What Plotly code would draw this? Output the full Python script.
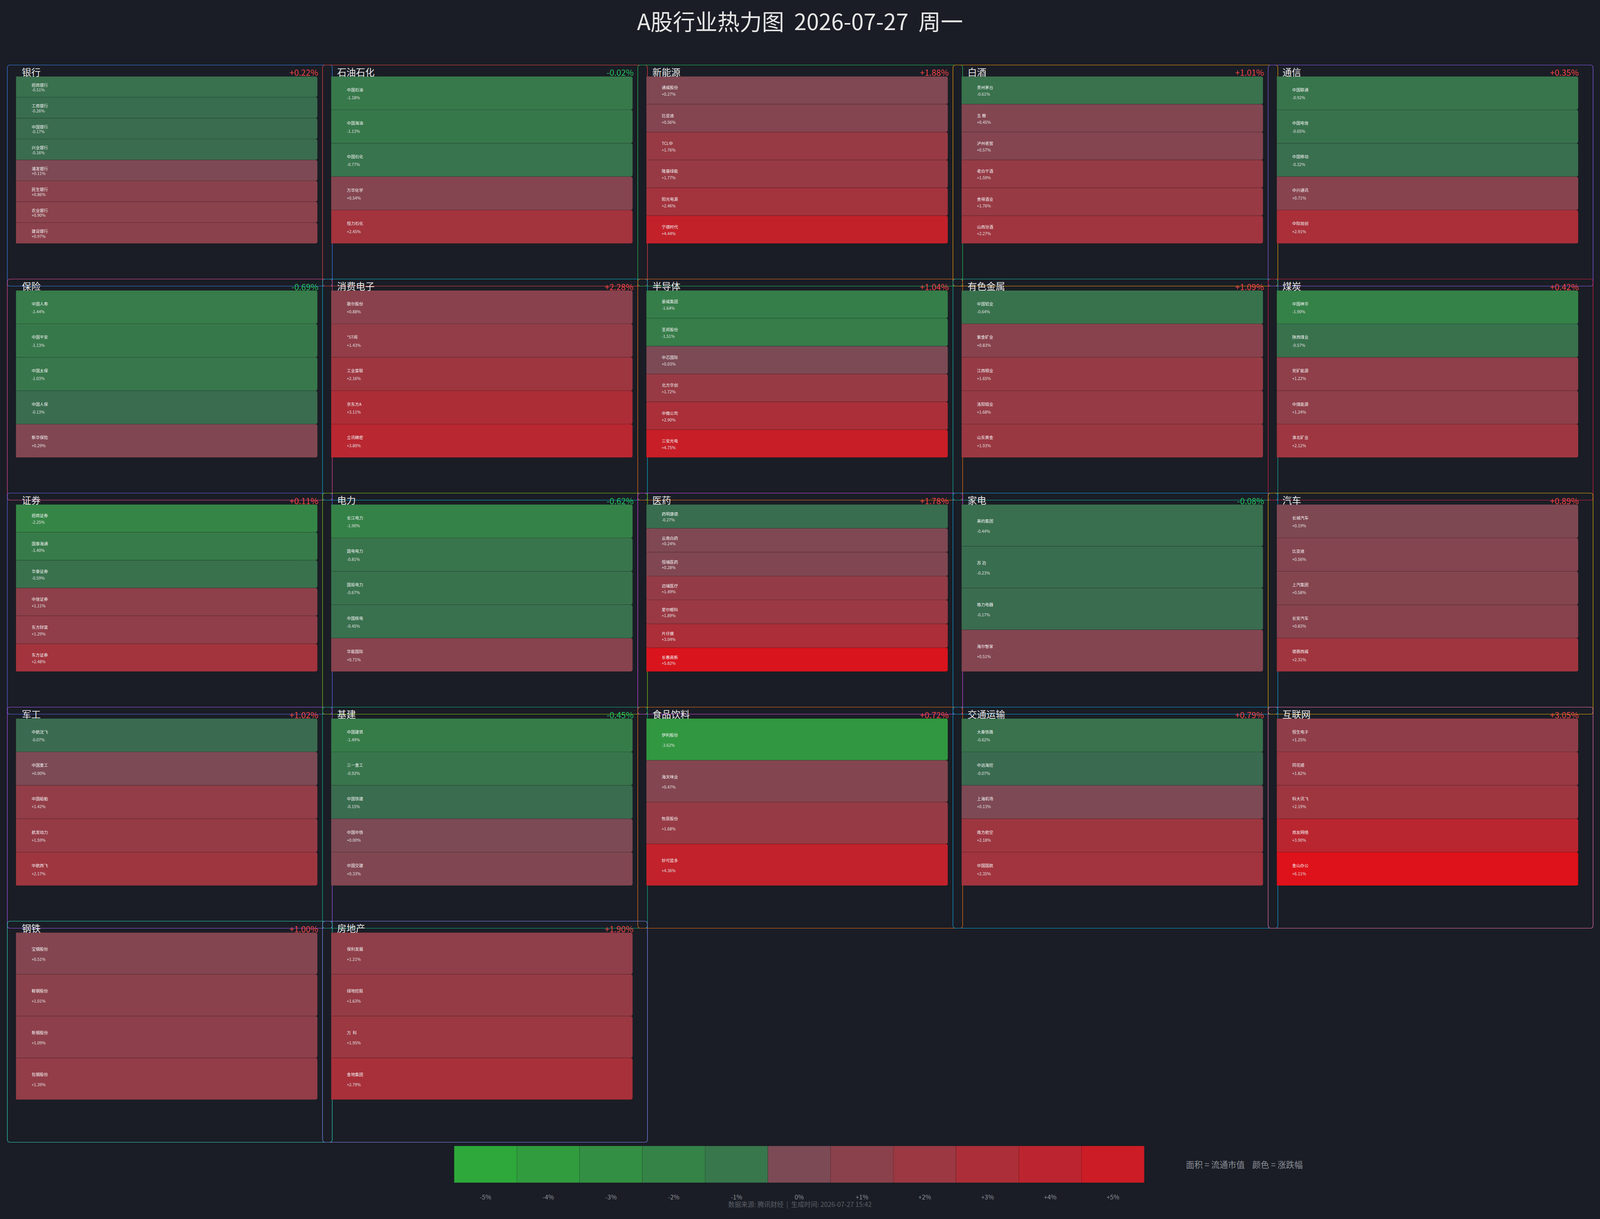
import plotly.graph_objects as go

BG = "#1a1d25"
FONT = "Noto Sans CJK SC"

# ---- data -------------------------------------------------------------
SECTORS = ["银行", "石油石化", "新能源", "白酒", "通信",
           "保险", "消费电子", "半导体", "有色金属", "煤炭",
           "证券", "电力", "医药", "家电", "汽车",
           "军工", "基建", "食品饮料", "交通运输", "互联网",
           "钢铁", "房地产"]

SECTOR_PCT = [0.22, -0.02, 1.88, 1.01, 0.35,
              -0.69, 2.28, 1.04, 1.09, 0.42,
              0.11, -0.62, 1.78, -0.08, 0.89,
              1.02, -0.45, 0.72, 0.79, 3.05,
              1.00, 1.90]

STOCK_NAMES = [
    ["招商银行", "工商银行", "中国银行", "兴业银行", "浦发银行", "民生银行", "农业银行", "建设银行"],
    ["中国石油", "中国海油", "中国石化", "万华化学", "恒力石化"],
    ["通威股份", "比亚迪", "TCL中环", "隆基绿能", "阳光电源", "宁德时代"],
    ["贵州茅台", "五 粮 液", "泸州老窖", "老白干酒", "舍得酒业", "山西汾酒"],
    ["中国联通", "中国电信", "中国移动", "中兴通讯", "中际旭创"],
    ["中国人寿", "中国平安", "中国太保", "中国人保", "新华保险"],
    ["歌尔股份", "*ST闻泰", "工业富联", "京东方A", "立讯精密"],
    ["豪威集团", "圣邦股份", "中芯国际", "北方华创", "中微公司", "三安光电"],
    ["中国铝业", "紫金矿业", "江西铜业", "洛阳钼业", "山东黄金"],
    ["中国神华", "陕西煤业", "兖矿能源", "中煤能源", "淮北矿业"],
    ["招商证券", "国泰海通", "华泰证券", "中信证券", "东方财富", "东方证券"],
    ["长江电力", "国电电力", "国投电力", "中国核电", "华能国际"],
    ["药明康德", "云南白药", "恒瑞医药", "迈瑞医疗", "爱尔眼科", "片仔癀", "长春高新"],
    ["美的集团", "苏 泊 尔", "格力电器", "海尔智家"],
    ["长城汽车", "比亚迪", "上汽集团", "长安汽车", "德赛西威"],
    ["中航沈飞", "中国重工", "中国船舶", "航发动力", "中航西飞"],
    ["中国建筑", "三一重工", "中国铁建", "中国中铁", "中国交建"],
    ["伊利股份", "海天味业", "牧原股份", "妙可蓝多"],
    ["大秦铁路", "中远海控", "上海机场", "南方航空", "中国国航"],
    ["恒生电子", "同花顺", "科大讯飞", "用友网络", "金山办公"],
    ["宝钢股份", "鞍钢股份", "新钢股份", "包钢股份"],
    ["保利发展", "绿地控股", "万  科Ａ", "金地集团"],
]

STOCK_PCT = [
    [-0.51, -0.26, -0.17, -0.16, 0.11, 0.86, 0.90, 0.97],
    [-1.18, -1.13, -0.77, 0.54, 2.45],
    [0.27, 0.56, 1.76, 1.77, 2.46, 4.44],
    [-0.61, 0.45, 0.57, 1.59, 1.76, 2.27],
    [-0.92, -0.65, -0.32, 0.71, 2.91],
    [-1.44, -1.13, -1.03, -0.13, 0.29],
    [0.88, 1.43, 2.16, 3.11, 3.80],
    [-1.64, -1.51, 0.03, 1.72, 2.90, 4.75],
    [-0.64, 0.83, 1.65, 1.68, 1.93],
    [-1.90, -0.57, 1.22, 1.24, 2.12],
    [-2.25, -1.40, -0.59, 1.11, 1.29, 2.48],
    [-1.90, -0.81, -0.67, -0.45, 0.71],
    [-0.27, 0.24, 0.28, 1.49, 1.89, 3.04, 5.82],
    [-0.44, -0.23, -0.17, 0.51],
    [0.19, 0.56, 0.58, 0.83, 2.31],
    [-0.07, 0.00, 1.42, 1.59, 2.17],
    [-1.49, -0.92, -0.15, 0.00, 0.33],
    [-3.62, 0.47, 1.68, 4.36],
    [-0.62, -0.07, 0.13, 2.18, 2.35],
    [1.25, 1.82, 2.19, 3.90, 6.11],
    [0.51, 1.01, 1.09, 1.39],
    [1.21, 1.63, 1.95, 2.79],
]

LEGEND_STEPS = [-5, -4, -3, -2, -1, 0, 1, 2, 3, 4, 5]
LEGEND_TICKS = ["-5%", "-4%", "-3%", "-2%", "-1%", "0%", "+1%", "+2%", "+3%", "+4%", "+5%"]

TITLE = "A股行业热力图\u00a0\u00a02026-07-27\u00a0\u00a0周一"
FOOTER = "数据来源: 腾讯财经\u00a0\u00a0|\u00a0\u00a0生成时间: 2026-07-27 15:42"
NOTE = "面积 = 流通市值\u00a0\u00a0\u00a0\u00a0颜色 = 涨跌幅"

# ---- style ------------------------------------------------------------
EDGE_COLORS = ["#3b82f6", "#ef4444", "#22c55e", "#f59e0b", "#8b5cf6",
               "#ec4899", "#06b6d4", "#f97316", "#14b8a6", "#e11d48",
               "#6366f1", "#84cc16", "#d946ef", "#0ea5e9", "#eab308",
               "#a855f7", "#10b981", "#f97316", "#0ea5e9", "#f472b6",
               "#2dd4bf", "#818cf8"]
UP, DOWN = "#ef4444", "#22c55e"
NCOLS = 5
# panel grid, measured in pixels of the 5148x3121 picture
COL_X0, COL_STEP, BOX_W = 23.5, 1014.2, 1045.5
ROW_Y0, ROW_STEP, BOX_H = 166.5, 548.0, 566.0
BAR_L, BAR_R, BAR_T, BAR_B = 27.5, 998.0, 29.0, 457.0
# figure fills the window (autosize), inside the 8px body margin
OFF_X, FIG_W = 10.0, 5128.0
OFF_Y, FIG_H = 8.0, 3105.0


def px(x):
    return (x - OFF_X) / FIG_W


def py(y):
    return 1 - (y - OFF_Y) / FIG_H


def pct_color(v):
    t = min(abs(v) / 5.0, 1.4)
    if v < 0:
        lo, hi = (58, 106, 80), (46, 168, 58)
    else:
        lo, hi = (123, 74, 85), (204, 28, 37)
    rgb = [max(0, min(255, round(a + (b - a) * t))) for a, b in zip(lo, hi)]
    return "rgb(%d,%d,%d)" % tuple(rgb)


def rounded_box(x0, y0, x1, y1, r=8):
    pts = lambda x, y: f"{px(x):.6f},{py(y):.6f}"
    return (f"M{pts(x0 + r, y0)} L{pts(x1 - r, y0)} Q{pts(x1, y0)} {pts(x1, y0 + r)} "
            f"L{pts(x1, y1 - r)} Q{pts(x1, y1)} {pts(x1 - r, y1)} "
            f"L{pts(x0 + r, y1)} Q{pts(x0, y1)} {pts(x0, y1 - r)} "
            f"L{pts(x0, y0 + r)} Q{pts(x0, y0)} {pts(x0 + r, y0)} Z")


fig = go.Figure()
shapes, annotations = [], []

for k, sector in enumerate(SECTORS):
    i = k + 1
    xa, ya = ("x", "y") if i == 1 else (f"x{i}", f"y{i}")
    bx = COL_X0 + (k % NCOLS) * COL_STEP
    by = ROW_Y0 + (k // NCOLS) * ROW_STEP
    names, pcts = STOCK_NAMES[k], STOCK_PCT[k]
    n = len(names)

    fig.add_trace(go.Bar(
        x=[1] * n, y=list(range(n)), orientation="h", width=1,
        xaxis=xa, yaxis=ya, hoverinfo="skip", showlegend=False,
        marker=dict(color=[pct_color(v) for v in pcts], cornerradius=5,
                    line=dict(width=1, color="rgba(0,0,0,0.22)")),
    ))
    fig.layout[xa.replace("x", "xaxis")] = dict(
        domain=[px(bx + BAR_L), px(bx + BAR_R)], range=[0, 1], visible=False,
        fixedrange=True, anchor=ya)
    fig.layout[ya.replace("y", "yaxis")] = dict(
        domain=[py(by + BAR_B), py(by + BAR_T)], range=[n - 0.5, -0.5], visible=False,
        fixedrange=True, anchor=xa)

    for j, (name, v) in enumerate(zip(names, pcts)):
        for dy, txt, col in ((-0.12, name[:4], "#f2f2f2"), (0.12, f"{v:+.2f}%", "#e0e0e0")):
            annotations.append(dict(
                x=0, y=j + dy, xref=xa, yref=ya, text=txt, showarrow=False,
                xanchor="left", yanchor="middle", xshift=38, yshift=-1.2,
                font=dict(size=10.4, color=col, family=FONT)))

    shapes.append(dict(type="path", path=rounded_box(bx, by, bx + BOX_W, by + BOX_H),
                       xref="paper", yref="paper", layer="below",
                       line=dict(color=EDGE_COLORS[k], width=1.2)))
    annotations.append(dict(
        x=px(bx + 44), y=py(by + 17), xref="paper", yref="paper", text=sector,
        showarrow=False, xanchor="left", yanchor="middle",
        font=dict(size=24, color="#e8e8e8", family=FONT)))
    sp = SECTOR_PCT[k]
    annotations.append(dict(
        x=px(bx + 1003), y=py(by + 18.5), xref="paper", yref="paper",
        text=f"{sp:+.2f}%", showarrow=False, xanchor="right", yanchor="middle",
        font=dict(size=21.5, color=UP if sp >= 0 else DOWN, family=FONT)))

# colour legend strip
li = len(SECTORS) + 1
fig.add_trace(go.Bar(
    x=LEGEND_STEPS, y=[1] * len(LEGEND_STEPS), width=1, xaxis=f"x{li}", yaxis=f"y{li}",
    hoverinfo="skip", showlegend=False,
    marker=dict(color=[pct_color(v) for v in LEGEND_STEPS],
                line=dict(width=1, color="rgba(0,0,0,0.18)")),
))
fig.layout[f"xaxis{li}"] = dict(
    domain=[px(1461), px(3682)], range=[-5.5, 5.5], anchor=f"y{li}", fixedrange=True,
    tickvals=LEGEND_STEPS, ticktext=LEGEND_TICKS, ticks="", showgrid=False,
    zeroline=False, showline=False, ticklabelstandoff=26,
    tickfont=dict(size=16, color="#8b8f97", family=FONT))
fig.layout[f"yaxis{li}"] = dict(
    domain=[py(3028), py(2934)], range=[0, 1], visible=False, fixedrange=True,
    anchor=f"x{li}")

annotations.append(dict(
    x=px(3813), y=py(2980), xref="paper", yref="paper", text=NOTE, showarrow=False,
    xanchor="left", yanchor="middle", font=dict(size=21.5, color="#8b8f97", family=FONT)))
annotations.append(dict(
    x=px(2574), y=py(3083), xref="paper", yref="paper", text=FOOTER, showarrow=False,
    xanchor="center", yanchor="middle", font=dict(size=16.7, color="#5c6068", family=FONT)))

fig.update_layout(
    margin=dict(l=0, r=0, t=0, b=0),
    paper_bgcolor=BG, plot_bgcolor="rgba(0,0,0,0)",
    title=dict(text=TITLE, x=px(2574), xanchor="center", y=py(57), yanchor="middle",
               font=dict(size=57, color="#e6e6e6", family=FONT)),
    font=dict(family=FONT, color="#e6e6e6"),
    shapes=shapes, annotations=annotations, showlegend=False,
)

# dark page behind the figure so the body margin does not show as a white frame
fig.write_html("out.html", post_script=f"document.body.style.background='{BG}';")
